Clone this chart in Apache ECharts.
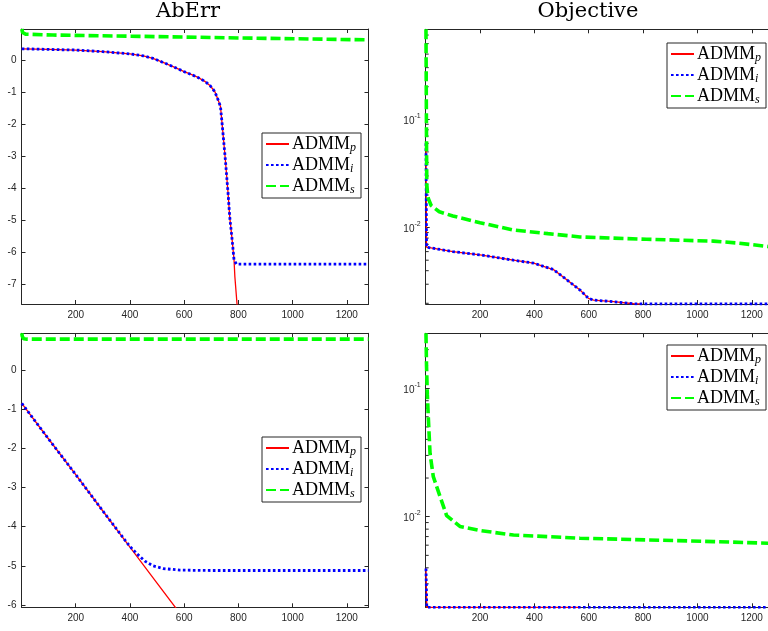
<!DOCTYPE html>
<html><head><meta charset="utf-8">
<script src="https://cdn.jsdelivr.net/npm/echarts@6.0.0/dist/echarts.min.js"></script>
<style>html,body{margin:0;padding:0;background:#fff}#c{width:768px;height:631px}</style>
</head><body><div id="c"></div>
<script>
// ---------- Data ----------
const seriesNames = ['ADMM_p', 'ADMM_i', 'ADMM_s'];
const panelTitles = ['AbErr', 'Objective'];
const xTicks = [200, 400, 600, 800, 1000, 1200];

// Panel 1 : AbErr (top, log10 scale values)
const ab1_p_x = [1, 50, 100, 200, 300, 400, 449, 485, 520, 559, 598, 630, 649, 678, 695, 713, 725, 734, 741, 752, 762, 768, 777, 784, 787, 795, 797];
const ab1_p_y = [0.37, 0.36, 0.35, 0.33, 0.28, 0.21, 0.15, 0.07, -0.05, -0.19, -0.34, -0.45, -0.52, -0.66, -0.78, -0.97, -1.23, -1.44, -2.07, -3.11, -4.16, -4.89, -5.62, -6.25, -6.77, -7.63, -7.9];
const ab1_i_x = [1, 50, 100, 200, 300, 400, 449, 485, 520, 559, 598, 630, 649, 678, 695, 713, 725, 734, 741, 752, 762, 768, 777, 784, 793, 900, 1280];
const ab1_i_y = [0.37, 0.36, 0.35, 0.33, 0.28, 0.21, 0.15, 0.07, -0.05, -0.19, -0.34, -0.45, -0.52, -0.66, -0.78, -0.97, -1.23, -1.44, -2.07, -3.11, -4.16, -4.89, -5.62, -6.25, -6.38, -6.38, -6.38];
const ab1_s_x = [1, 4, 15, 116, 436, 800, 1280];
const ab1_s_y = [0.99, 0.88, 0.83, 0.80, 0.76, 0.71, 0.65];

// Panel 2 : Objective (top, log axis)
const ob1_p_x = [1, 3, 5, 100, 200, 323, 397, 470, 519, 568, 599, 618, 691, 765, 790, 800];
const ob1_p_y = [0.06, 0.0066, 0.0064, 0.006, 0.0056, 0.005, 0.0047, 0.0041, 0.0033, 0.00265, 0.00222, 0.00214, 0.00207, 0.00198, 0.00197, 0.0018];
const ob1_i_x = [1, 3, 5, 100, 200, 323, 397, 470, 519, 568, 599, 618, 691, 765, 800, 1280];
const ob1_i_y = [0.06, 0.0066, 0.0064, 0.006, 0.0056, 0.005, 0.0047, 0.0041, 0.0033, 0.00265, 0.00222, 0.00214, 0.00207, 0.00198, 0.00197, 0.00197];
const ob1_s_x = [1, 2, 3, 4, 8, 20, 50, 100, 200, 323, 450, 568, 813, 1059, 1150, 1280];
const ob1_s_y = [0.678, 0.2, 0.06, 0.025, 0.019, 0.016, 0.014, 0.0128, 0.0111, 0.0095, 0.0088, 0.0082, 0.0078, 0.0075, 0.0072, 0.0066];

// Panel 3 : AbErr (bottom)
const ab2_p_x = [1, 100, 200, 300, 400, 500, 600];
const ab2_p_y = [-0.85, -1.76, -2.67, -3.6, -4.52, -5.44, -6.36];
const ab2_i_x = [1, 100, 200, 300, 390, 410, 430, 455, 485, 522, 584, 700, 1280];
const ab2_i_y = [-0.85, -1.76, -2.67, -3.6, -4.42, -4.58, -4.72, -4.88, -5.0, -5.07, -5.11, -5.12, -5.12];
const ab2_s_x = [1, 3, 8, 20, 200, 600, 1000, 1280];
const ab2_s_y = [0.94, 0.86, 0.8, 0.79, 0.79, 0.79, 0.79, 0.79];

// Panel 4 : Objective (bottom, log axis)
const ob2_p_x = [1, 4, 565, 580];
const ob2_p_y = [0.00395, 0.00197, 0.00197, 0.0018];
const ob2_i_x = [1, 4, 1280];
const ob2_i_y = [0.00395, 0.00197, 0.00197];
const ob2_s_x = [1, 3, 6, 10, 16, 28, 53, 77, 126, 200, 323, 568, 813, 1059, 1280];
const ob2_s_y = [0.268, 0.15, 0.09, 0.057, 0.031, 0.0205, 0.0143, 0.0102, 0.0084, 0.0078, 0.0072, 0.0068, 0.0066, 0.0064, 0.0062];

// minor tick values of the log axes
const minorTop = [0.002,0.003,0.004,0.005,0.006,0.007,0.008,0.009,0.02,0.03,0.04,0.05,0.06,0.07,0.08,0.09,0.2,0.3,0.4,0.5,0.6];
const minorBot = [0.002,0.003,0.004,0.005,0.006,0.007,0.008,0.009,0.02,0.03,0.04,0.05,0.06,0.07,0.08,0.09,0.2];

// ---------- Layout / style ----------
const zip = (xs, ys) => xs.map((x, i) => [x, ys[i]]);
const grids = [
  {left: 21.5, top: 29, width: 347, height: 275},
  {left: 425.7, top: 29.3, width: 347.8, height: 274.7},
  {left: 21.5, top: 333.3, width: 347, height: 274},
  {left: 425.7, top: 333.3, width: 347.8, height: 274}
];
const yRanges = [
  {type: 'value', min: -7.63, max: 0.99, splitNumber: 9},
  {type: 'log', min: 0.00197, max: 0.678},
  {type: 'value', min: -6.06, max: 0.94, splitNumber: 7},
  {type: 'log', min: 0.00197, max: 0.268}
];
const panelData = [
  [zip(ab1_p_x, ab1_p_y), zip(ab1_i_x, ab1_i_y), zip(ab1_s_x, ab1_s_y)],
  [zip(ob1_p_x, ob1_p_y), zip(ob1_i_x, ob1_i_y), zip(ob1_s_x, ob1_s_y)],
  [zip(ab2_p_x, ab2_p_y), zip(ab2_i_x, ab2_i_y), zip(ab2_s_x, ab2_s_y)],
  [zip(ob2_p_x, ob2_p_y), zip(ob2_i_x, ob2_i_y), zip(ob2_s_x, ob2_s_y)]
];
const legendPos = [
  {left: 262, top: 133}, {left: 667, top: 43}, {left: 262, top: 437}, {left: 667, top: 345}
];
const lineStyles = [
  {color: '#ff0000', width: 1.3, type: 'solid'},
  {color: '#0000ff', width: 2.8, type: [2.6, 2.4], cap: 'butt'},
  {color: '#00ff00', width: 3.6, type: [10, 4], cap: 'butt'}
];
const AX = '#262626';
const labelFont = {fontFamily: 'Liberation Sans, Arial, sans-serif', fontSize: 10, color: AX};

const xAxes = [], yAxes = [], series = [], legends = [];
grids.forEach((g, gi) => {
  const xBase = {type: 'value', gridIndex: gi, min: 0, max: 1280, interval: 200,
    axisLine: {show: true, onZero: false, lineStyle: {color: AX, width: 1}},
    axisTick: {show: true, inside: true, length: 4, lineStyle: {color: AX}},
    splitLine: {show: false}};
  xAxes.push(Object.assign({}, xBase, {position: 'bottom',
    axisLabel: Object.assign({margin: 6, showMinLabel: false, showMaxLabel: false,
      formatter: v => String(v)}, labelFont)}));
  xAxes.push(Object.assign({}, xBase, {position: 'top', axisLabel: {show: false}}));
  const isLog = yRanges[gi].type === 'log';
  const yBase = Object.assign({gridIndex: gi,
    axisLine: {show: true, onZero: false, lineStyle: {color: AX, width: 1}},
    axisTick: {show: true, inside: true, length: 4, lineStyle: {color: AX}},
    splitLine: {show: false}}, yRanges[gi]);
  if (isLog) yBase.logBase = 10;
  const yLab = Object.assign({margin: 5, showMinLabel: false, showMaxLabel: false}, labelFont);
  if (isLog) {
    yLab.formatter = v => {
      const e = Math.log10(v); const r = Math.round(e);
      if (Math.abs(e - r) > 1e-6) return '';
      return '{b|10}{e|' + r + '}';
    };
    yLab.rich = {
      b: {fontFamily: 'Liberation Sans, Arial, sans-serif', fontSize: 10, color: AX, lineHeight: 14, verticalAlign: 'bottom'},
      e: {fontFamily: 'Liberation Sans, Arial, sans-serif', fontSize: 7, color: AX, lineHeight: 8, verticalAlign: 'top'}
    };
  } else {
    yLab.formatter = v => String(Math.round(v));
  }
  yAxes.push(Object.assign({}, yBase, {position: 'left', axisLabel: yLab}));
  yAxes.push(Object.assign({}, yBase, {position: 'right', axisLabel: {show: false}}));

  seriesNames.forEach((nm, si) => {
    series.push({type: 'line', name: nm, xAxisIndex: gi * 2, yAxisIndex: gi * 2,
      data: panelData[gi][si], showSymbol: false, symbol: 'none', clip: true,
      lineStyle: lineStyles[si], itemStyle: {color: lineStyles[si].color},
      emphasis: {disabled: true}, silent: true, z: 3 + si});
  });
  if (isLog) {
    const mt = gi === 1 ? minorTop : minorBot;
    series.push({type: 'custom', xAxisIndex: gi * 2, yAxisIndex: gi * 2, silent: true, clip: false,
      data: mt.map(v => [0, v]),
      renderItem: (params, api) => {
        const p = api.coord([0, api.value(1)]);
        return {type: 'line', shape: {x1: p[0], y1: p[1], x2: p[0] + 3, y2: p[1]},
          style: {stroke: AX, lineWidth: 1}};
      }, z: 2});
  }
  legends.push(Object.assign({
    orient: 'vertical', data: seriesNames, selectedMode: false,
    backgroundColor: '#fff', borderColor: AX, borderWidth: 1, borderRadius: 0,
    padding: [2, 5, 2, 3], itemGap: 2, itemWidth: 23, itemHeight: 14,
    itemStyle: {opacity: 0, borderWidth: 0, color: 'rgba(0,0,0,0)'},
    formatter: n => '{a|ADMM}{s|' + n.slice(5) + '}',
    textStyle: {color: '#000', padding: [0, 0, 0, -2], rich: {
      a: {fontFamily: 'Liberation Serif, Times New Roman, serif', fontSize: 18, lineHeight: 20, verticalAlign: 'middle', color: '#000'},
      s: {fontFamily: 'Liberation Serif, Times New Roman, serif', fontStyle: 'italic', fontSize: 12, lineHeight: 10, verticalAlign: 'bottom', color: '#000'}
    }}
  }, legendPos[gi]));
});

const chart = echarts.init(document.getElementById('c'), null, {renderer: 'canvas'});
chart.setOption({
  backgroundColor: '#fff',
  animation: false,
  grid: grids.map(g => Object.assign({containLabel: false, outerBoundsMode: 'none'}, g)),
  xAxis: xAxes,
  yAxis: yAxes,
  legend: legends,
  series: series,
  graphic: [
    {type: 'text', x: 188, y: 1, silent: true, style: {text: panelTitles[0], fontFamily: 'DejaVu Serif', fontSize: 21, fill: '#000', align: 'center', verticalAlign: 'top'}},
    {type: 'text', x: 588, y: 1, silent: true, style: {text: panelTitles[1], fontFamily: 'DejaVu Serif', fontSize: 21, fill: '#000', align: 'center', verticalAlign: 'top'}}
  ]
});
</script>
</body></html>
